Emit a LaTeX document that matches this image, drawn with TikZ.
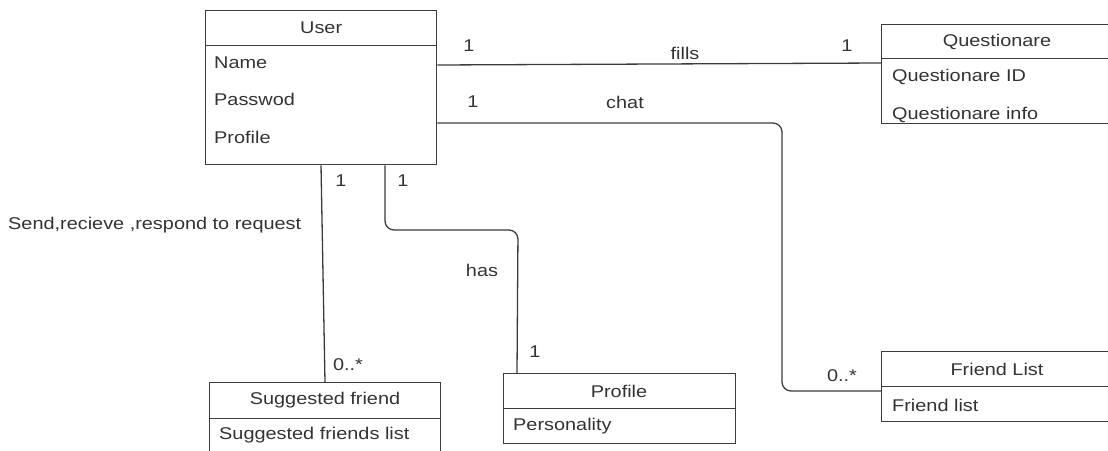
\documentclass[tikz,border=0pt]{standalone}
\usepackage{fontspec}
\setmainfont[FakeStretch=1.17]{Liberation Sans}
\usetikzlibrary{calc}
\definecolor{ink}{HTML}{333333}
\definecolor{wire}{HTML}{3C3C3C}
\begin{document}
\begin{tikzpicture}[x=1pt,y=-1pt,
  font=\fontsize{17}{20}\selectfont,
  every node/.style={text=ink},
  head/.style={draw=wire,line width=1.3pt,inner sep=0pt,anchor=north west},
  bodybox/.style={draw=wire,line width=1.3pt,inner sep=0pt,anchor=north west},
  attr/.style={anchor=west,inner sep=0pt},
  lbl/.style={inner sep=0pt},
  link/.style={draw=wire,line width=1.3pt,rounded corners=9pt}]
\useasboundingbox (0,0) rectangle (1108,450);

% User class
\node[head,minimum width=231pt,minimum height=35pt] (user) at (205,10) {};
\node[lbl] at (user.center) {User};
\node[bodybox,minimum width=231pt,minimum height=119pt] (userb) at (205,45) {};
\node[attr] (uname) at (214,63) {Name};
\node[attr] (upass) at (214,99) {Passwod};
\node[attr] (uprof) at (214,137) {Profile};

% Questionare class
\node[head,minimum width=231pt,minimum height=34pt] (quest) at (881,24) {};
\node[lbl] at (997,42) {Questionare};
\node[bodybox,minimum width=231pt,minimum height=65pt] (questb) at (881,58) {};
\node[attr] (qid) at (892,77) {Questionare ID};
\node[attr] (qinfo) at (892,115) {Questionare info};

% Friend List class
\node[head,minimum width=231pt,minimum height=35pt] (flist) at (881,351) {};
\node[lbl] at (997,369) {Friend List};
\node[bodybox,minimum width=231pt,minimum height=35pt] (flistb) at (881,386) {};
\node[attr] (fl) at (892,405) {Friend list};

% Suggested friend class
\node[head,minimum width=231pt,minimum height=36pt] (sugg) at (209,382) {};
\node[lbl] at (325,400) {Suggested friend};
\node[bodybox,minimum width=231pt,minimum height=40pt] (suggb) at (209,418) {};
\node[attr] (sl) at (219,435) {Suggested friends list};

% Profile class
\node[head,minimum width=232pt,minimum height=35pt] (prof) at (503,373) {};
\node[lbl] at (619,391) {Profile};
\node[bodybox,minimum width=232pt,minimum height=35pt] (profb) at (503,408) {};
\node[attr] (pers) at (513,426) {Personality};

% bend columns of the routed links
\coordinate (chatx) at (782,0);
\coordinate (hasy) at (0,230);

% fills
\draw[link] ([yshift=-20pt]userb.north east) -- ([yshift=-5pt]questb.north west);
\node[lbl] at (469,46) {1};
\node[lbl] at (685,53) {fills};
\node[lbl] at (847,46) {1};

% chat
\coordinate (chatA) at ([yshift=-78pt]userb.north east);
\coordinate (chatB) at ([yshift=-5pt]flistb.north west);
\draw[link] (chatA) -- (chatA -| chatx) -- (chatB -| chatx) -- (chatB);
\node[lbl] at (473,102) {1};
\node[lbl] at (625,102) {chat};
\node[lbl] at (842,376) {0..*};

% send / receive requests
\draw[link] ([xshift=116pt]userb.south west) -- ([xshift=116pt]sugg.north west);
\node[lbl] at (341,181) {1};
\node[lbl] at (348,365) {0..*};
\node[lbl,anchor=west] at (8,225) {Send,recieve ,respond to request};

% has
\coordinate (hasA) at ([xshift=180pt]userb.south west);
\coordinate (hasB) at ([xshift=14pt]prof.north west);
\draw[link] (hasA) -- (hasA |- hasy) -- ([xshift=1pt]hasB |- hasy) -- (hasB);
\node[lbl] at (403,181) {1};
\node[lbl] at (482,270) {has};
\node[lbl] at (535,352) {1};
\end{tikzpicture}
\end{document}
